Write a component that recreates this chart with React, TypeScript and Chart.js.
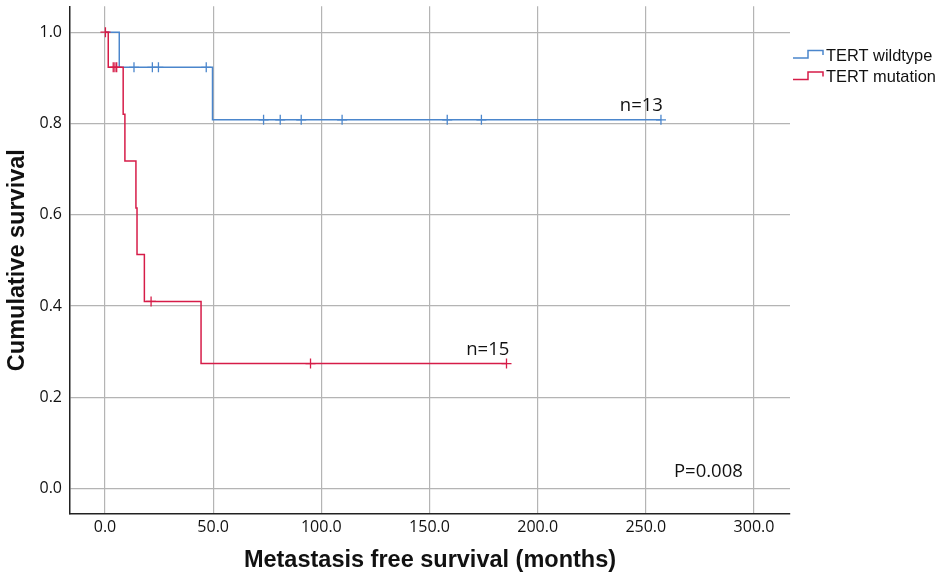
import React, { useEffect, useRef } from "react";
import { Chart, registerables } from "chart.js";

Chart.register(...registerables);

// Kaplan-Meier step points (time in months, cumulative survival)
const wildTimes = [0, 6.6, 49.7, 257];
const wildSurv = [1.0, 0.923, 0.808, 0.808];
const wildCensorTimes = [13.4, 21.9, 24.7, 46.8, 73.3, 81.0, 90.7, 109.6, 158.2, 174.0, 257.0];
const wildCensorSurv = [0.923, 0.923, 0.923, 0.923, 0.808, 0.808, 0.808, 0.808, 0.808, 0.808, 0.808];

const mutTimes = [0, 1.5, 8.4, 9.2, 14.3, 14.8, 18.2, 44.4, 185.6];
const mutSurv = [1.0, 0.923, 0.82, 0.718, 0.615, 0.513, 0.41, 0.274, 0.274];
const mutCensorTimes = [0.2, 3.8, 4.6, 5.4, 21.3, 95.0, 185.6];
const mutCensorSurv = [1.0, 0.923, 0.923, 0.923, 0.41, 0.274, 0.274];

const xTicks = [0, 50, 100, 150, 200, 250, 300];
const yTicks = [0, 0.2, 0.4, 0.6, 0.8, 1.0];

const seriesNames = ["TERT wildtype", "TERT mutation"];
const annotations = [
  { text: "n=13", x: 238, y: 0.828 },
  { text: "n=15", x: 167, y: 0.293 },
  { text: "P=0.008", x: 263, y: 0.025 },
];

const BLUE = "#4b86cc";
const RED = "#d61c48";

const toPts = (xs: number[], ys: number[]) => xs.map((x, i) => ({ x, y: ys[i] }));

const overlayPlugin = {
  id: "overlay",
  afterDraw(chart: any) {
    const ctx = chart.ctx;
    const xs = chart.scales.x;
    const ys = chart.scales.y;
    ctx.save();
    ctx.fillStyle = "#111";
    ctx.font = "18.5px 'Open Sans', 'Noto Sans', sans-serif";
    ctx.textBaseline = "alphabetic";
    ctx.textAlign = "left";
    annotations.forEach((a) => {
      ctx.fillText(a.text, xs.getPixelForValue(a.x), ys.getPixelForValue(a.y));
    });
    const colors = [BLUE, RED];
    const baseY = [58, 79.5];
    ctx.lineWidth = 1.5;
    seriesNames.forEach((name, i) => {
      const y0 = baseY[i];
      ctx.strokeStyle = colors[i];
      ctx.beginPath();
      ctx.moveTo(793, y0);
      ctx.lineTo(808, y0);
      ctx.lineTo(808, y0 - 7.5);
      ctx.lineTo(823, y0 - 7.5);
      ctx.lineTo(823, y0 - 3);
      ctx.stroke();
      ctx.fillStyle = "#111";
      ctx.font = "16.4px 'Liberation Sans', Arial, sans-serif";
      ctx.fillText(name, 826, y0 + 2.5);
    });
    ctx.restore();
  },
};

export default function App() {
  const ref = useRef<HTMLCanvasElement | null>(null);

  useEffect(() => {
    if (!ref.current) return;
    const tickFont = { family: "'Open Sans', 'Noto Sans', sans-serif", size: 16 };
    const titleFont = {
      family: "'Liberation Sans', Arial, sans-serif",
      size: 23.5,
      weight: "bold" as const,
      lineHeight: 1,
    };
    const chart = new Chart(ref.current, {
      type: "line",
      data: {
        datasets: [
          {
            label: seriesNames[1],
            data: toPts(mutTimes, mutSurv),
            borderColor: RED,
            borderWidth: 1.5,
            stepped: "before",
            pointRadius: 0,
            fill: false,
            order: 1,
          },
          {
            label: seriesNames[1] + " censored",
            data: toPts(mutCensorTimes, mutCensorSurv),
            borderColor: RED,
            showLine: false,
            pointStyle: "cross",
            pointRadius: 5,
            pointBorderWidth: 1.3,
            order: 0,
          },
          {
            label: seriesNames[0],
            data: toPts(wildTimes, wildSurv),
            borderColor: BLUE,
            borderWidth: 1.5,
            stepped: "before",
            pointRadius: 0,
            fill: false,
            order: 3,
          },
          {
            label: seriesNames[0] + " censored",
            data: toPts(wildCensorTimes, wildCensorSurv),
            borderColor: BLUE,
            showLine: false,
            pointStyle: "cross",
            pointRadius: 5,
            pointBorderWidth: 1.3,
            order: 2,
          },
        ],
      },
      options: {
        responsive: false,
        animation: false,
        layout: { padding: { top: 5, right: 150, bottom: 0, left: 0 } },
        plugins: {
          legend: { display: false },
          tooltip: { enabled: false },
        },
        scales: {
          x: {
            type: "linear",
            min: -16.18,
            max: 316.65,
            afterBuildTicks: (s: any) => {
              s.ticks = xTicks.map((v) => ({ value: v }));
            },
            afterFit: (s: any) => {
              s.height = 58;
              s.paddingLeft = 0;
              s.paddingRight = 0;
            },
            ticks: {
              color: "#111",
              font: tickFont,
              padding: 4,
              maxRotation: 0,
              callback: (v: any) => Number(v).toFixed(1),
            },
            grid: { color: "#b4b4b4", lineWidth: 1.2, drawTicks: false },
            border: { color: "#222", width: 1.5 },
            title: {
              display: true,
              text: "Metastasis free survival (months)",
              color: "#111",
              font: titleFont,
              padding: { top: 0, bottom: 0 },
            },
          },
          y: {
            type: "linear",
            min: -0.0557,
            max: 1.0568,
            afterBuildTicks: (s: any) => {
              s.ticks = yTicks.map((v) => ({ value: v }));
            },
            afterFit: (s: any) => {
              s.width = 70;
              s.paddingTop = 0;
              s.paddingBottom = 0;
            },
            ticks: {
              color: "#111",
              font: tickFont,
              padding: 8,
              callback: (v: any) => Number(v).toFixed(1),
            },
            grid: { color: "#b4b4b4", lineWidth: 1.2, drawTicks: false },
            border: { color: "#222", width: 1.5 },
            title: {
              display: true,
              text: "Cumulative survival",
              color: "#111",
              font: titleFont,
              padding: { top: 6, bottom: 0 },
            },
          },
        },
      },
      plugins: [overlayPlugin],
    });
    return () => chart.destroy();
  }, []);

  return (
    <div style={{ position: "fixed", left: 0, top: 0, width: 940, height: 572, background: "#fff" }}>
      <canvas ref={ref} width={940} height={572} style={{ display: "block", width: 940, height: 572 }} />
    </div>
  );
}
